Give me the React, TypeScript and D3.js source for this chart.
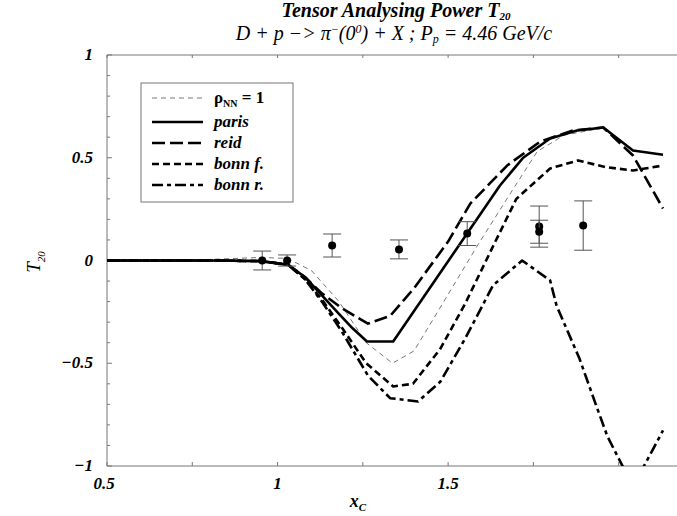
import React from "react";
import * as d3 from "d3";

const W = 677, H = 516;
const X_DOMAIN: [number, number] = [0.5, 2.171];
const Y_DOMAIN: [number, number] = [-1, 1];

const xTickLabels = [0.5, 1, 1.5];
const xTickLabelText = ["0.5", "1", "1.5"];
const yTickLabels = [1, 0.5, 0, -0.5, -1];
const yTickLabelText = ["1", "0.5", "0", "\u22120.5", "\u22121"];

// curves: [xc, T20]
const rhoNN1: [number, number][] = [
  [0.5, 0], [0.8, 0.005], [0.95, 0.015], [1.03, 0.01], [1.1, -0.05], [1.18, -0.2],
  [1.26, -0.4], [1.337, -0.5], [1.4, -0.44], [1.462, -0.27], [1.585, 0.07],
  [1.68, 0.32], [1.761, 0.53], [1.84, 0.61], [1.955, 0.645], [2.042, 0.535], [2.13, 0.515],
];
const paris: [number, number][] = [
  [0.5, 0], [0.8, 0], [0.95, -0.003], [1.03, -0.02], [1.08, -0.08], [1.13, -0.17],
  [1.18, -0.26], [1.22, -0.33], [1.262, -0.394], [1.339, -0.394], [1.652, 0.365],
  [1.72, 0.5], [1.799, 0.594], [1.878, 0.633], [1.955, 0.647], [2.042, 0.535], [2.13, 0.515],
];
const reid: [number, number][] = [
  [0.5, 0], [0.8, 0], [0.95, -0.003], [1.03, -0.02], [1.08, -0.08], [1.13, -0.16],
  [1.19, -0.234], [1.265, -0.307], [1.33, -0.27], [1.4, -0.135], [1.5, 0.092],
  [1.565, 0.277], [1.673, 0.462], [1.77, 0.579], [1.867, 0.633], [1.955, 0.647],
  [2.042, 0.511], [2.13, 0.253],
];
const bonnF: [number, number][] = [
  [0.5, 0], [0.8, 0], [0.95, -0.003], [1.03, -0.02], [1.08, -0.09], [1.13, -0.19],
  [1.19, -0.33], [1.26, -0.5], [1.339, -0.613], [1.397, -0.6], [1.477, -0.43],
  [1.55, -0.21], [1.629, 0.06], [1.7, 0.3], [1.799, 0.448], [1.881, 0.487],
  [1.96, 0.455], [2.042, 0.438], [2.13, 0.462],
];
const bonnR: [number, number][] = [
  [0.5, 0], [0.8, 0], [0.95, -0.003], [1.03, -0.02], [1.08, -0.09], [1.13, -0.2],
  [1.19, -0.35], [1.265, -0.56], [1.33, -0.67], [1.412, -0.686], [1.477, -0.59],
  [1.55, -0.38], [1.632, -0.12], [1.717, 0.0], [1.799, -0.097], [1.818, -0.22],
  [1.885, -0.477], [1.935, -0.71], [1.967, -0.856], [2.042, -1.1], [2.13, -0.827],
];

// data points
const dataX = [0.955, 1.028, 1.16, 1.356, 1.556, 1.767, 1.767, 1.896];
const dataY = [0.0, 0.0, 0.073, 0.054, 0.131, 0.165, 0.14, 0.17];
const dataErr = [0.046, 0.027, 0.056, 0.046, 0.058, 0.1, 0.056, 0.12];

const seriesNames = ["\u03c1NN = 1", "paris", "reid", "bonn f.", "bonn r."];
const series = [rhoNN1, paris, reid, bonnF, bonnR];

const styles = [
  { stroke: "#777", width: 1, dash: "5,4" },
  { stroke: "#000", width: 2.6, dash: "" },
  { stroke: "#000", width: 2.6, dash: "13,5" },
  { stroke: "#000", width: 2.6, dash: "7,4" },
  { stroke: "#000", width: 2.6, dash: "11,4,4,4" },
];

const L = 107, R = 677, T = 55, B = 466;

export default function App() {
  const x = d3.scaleLinear().domain(X_DOMAIN).range([L, R]);
  const y = d3.scaleLinear().domain(Y_DOMAIN).range([B, T]);
  const line = d3.line<[number, number]>().x((d) => x(d[0])).y((d) => y(d[1]));
  const font = "'Liberation Serif', 'Times New Roman', serif";
  const yMinor = d3.range(-10, 11).map((i) => i / 10);
  const xMinor = d3.range(0.5, 2.17, 0.25);

  return (
    <svg width={W} height={H} style={{ position: "absolute", left: 0, top: 0, background: "#fff" }}
      fontFamily={font}>
      <defs>
        <clipPath id="plot"><rect x={L} y={T} width={R - L} height={B - T} /></clipPath>
      </defs>
      <rect x={0} y={0} width={W} height={H} fill="#fff" />
      {/* title */}
      <text x={396} y={17} textAnchor="middle" fontSize={20} fontWeight="bold" fontStyle="italic">
        Tensor Analysing Power T<tspan fontSize={11} dy={3}>20</tspan>
      </text>
      <text x={394} y={40} textAnchor="middle" fontSize={20} fontStyle="italic">
        D + p −&gt; π<tspan fontSize={12} dy={-7}>−</tspan><tspan dy={7}>(0</tspan><tspan fontSize={12} dy={-7}>0</tspan><tspan dy={7}>) + X ;  P</tspan><tspan fontSize={12} dy={3}>p</tspan><tspan dy={-3}> = 4.46 GeV/c</tspan>
      </text>

      {/* axes */}
      <g stroke="#777" strokeWidth={1} fill="none">
        <line x1={L} y1={T} x2={R} y2={T} />
        <line x1={L} y1={B} x2={R} y2={B} />
        <line x1={L} y1={T} x2={L} y2={B} />
        {yMinor.map((v, i) => (
          <line key={"ym" + i} x1={L} x2={L + (i % 5 === 0 ? 5 : 3)} y1={y(v)} y2={y(v)} />
        ))}
        {xMinor.map((v, i) => (
          <g key={"xm" + i}>
            <line x1={x(v)} x2={x(v)} y1={B} y2={B - 4} />
            <line x1={x(v)} x2={x(v)} y1={T} y2={T + 3} />
          </g>
        ))}
      </g>
      {yTickLabels.map((v, i) => (
        <text key={"yl" + i} x={93} y={y(v) + 5} textAnchor="end" fontSize={17} fontWeight="bold" fontStyle="italic">
          {yTickLabelText[i]}
        </text>
      ))}
      {xTickLabels.map((v, i) => (
        <text key={"xl" + i} x={x(v) - (i === 0 ? 3 : 0)} y={489} textAnchor="middle" fontSize={17} fontWeight="bold" fontStyle="italic">
          {xTickLabelText[i]}
        </text>
      ))}
      <text x={358} y={507} textAnchor="middle" fontSize={18} fontWeight="bold" fontStyle="italic">
        x<tspan fontSize={11} dy={4}>C</tspan>
      </text>
      <text transform={`translate(40,${262}) rotate(-90)`} textAnchor="middle" fontSize={19} fontStyle="italic">
        T<tspan fontSize={11} dy={5}>20</tspan>
      </text>

      {/* curves */}
      <g clipPath="url(#plot)" fill="none">
        {series.map((s, i) => (
          <path key={"c" + i} d={line(s) || ""} stroke={styles[i].stroke} strokeWidth={styles[i].width}
            strokeDasharray={styles[i].dash} strokeLinejoin="round" />
        ))}
      </g>

      {/* data points */}
      <g>
        {dataX.map((v, i) => (
          <g key={"p" + i}>
            <g stroke="#555" strokeWidth={1}>
              <line x1={x(v)} x2={x(v)} y1={y(dataY[i] - dataErr[i])} y2={y(dataY[i] + dataErr[i])} />
              <line x1={x(v) - 9} x2={x(v) + 9} y1={y(dataY[i] - dataErr[i])} y2={y(dataY[i] - dataErr[i])} />
              <line x1={x(v) - 9} x2={x(v) + 9} y1={y(dataY[i] + dataErr[i])} y2={y(dataY[i] + dataErr[i])} />
            </g>
            <circle cx={x(v)} cy={y(dataY[i])} r={4} fill="#000" />
          </g>
        ))}
      </g>

      {/* legend */}
      <rect x={141} y={83} width={152} height={119} fill="#fff" stroke="#777" strokeWidth={1} />
      {seriesNames.map((n, i) => {
        const yy = [98, 122, 143, 164, 185][i];
        return (
          <g key={"lg" + i}>
            <line x1={152} x2={203} y1={yy} y2={yy} stroke={styles[i].stroke} strokeWidth={styles[i].width}
              strokeDasharray={styles[i].dash} />
            {i === 0 ? (
              <text x={214} y={yy + 5} fontSize={17} fontWeight="bold">
                ρ<tspan fontSize={10} dy={4}>NN</tspan><tspan dy={-4}> = 1</tspan>
              </text>
            ) : (
              <text x={214} y={yy + 5} fontSize={17} fontWeight="bold" fontStyle="italic">{n}</text>
            )}
          </g>
        );
      })}
    </svg>
  );
}
